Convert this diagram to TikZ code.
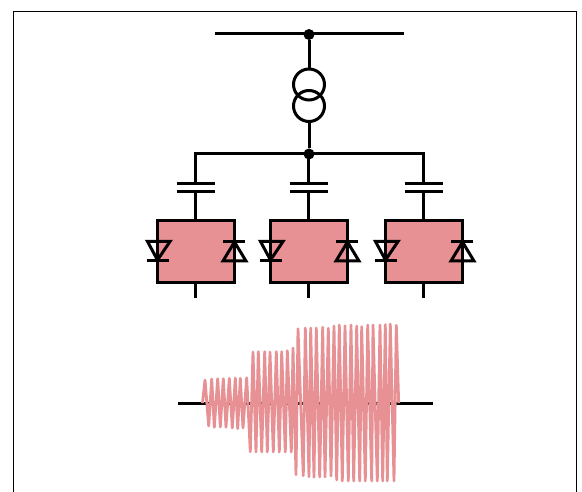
\documentclass[tikz,border=0pt]{standalone}
\usetikzlibrary{calc}
\definecolor{modred}{HTML}{E79195}
\tikzset{
  wire/.style={line width=3pt},
  dot/.style={circle,fill=black,inner sep=0pt,minimum size=11pt},
  winding/.style={circle,draw,line width=3pt,inner sep=0pt,outer sep=0pt,minimum size=31pt},
  module/.style={draw,fill=modred,line width=3pt,inner sep=0pt,outer sep=0pt,minimum width=77pt,minimum height=62pt},
}
\newcommand{\legdiodes}[1]{%
  \draw[wire] ($(#1.west)+(-9.5,-10.5)$) -- ($(#1.west)+(13,-10.5)$) -- ($(#1.west)+(0.5,8)$) -- cycle;
  \draw[wire] ($(#1.west)+(-10.5,9)$) -- ($(#1.west)+(12,9)$);
  \draw[wire] ($(#1.east)+(-11,9)$) -- ($(#1.east)+(12,9)$) -- ($(#1.east)+(0.5,-10)$) -- cycle;
  \draw[wire] ($(#1.east)+(-11,-10)$) -- ($(#1.east)+(11,-10)$);
}
\begin{document}
\begin{tikzpicture}[x=1pt,y=-1pt]
\clip (0,0) rectangle (582,492);
\draw[line width=1pt] (13,11.5) rectangle (576,530);

% grid side
\coordinate (gl) at (215,33.5);
\coordinate (gr) at (404,33.5);
\node[dot] (gdot) at (309,34.5) {};
\node[winding] (tra) at (309,84.5) {};
\node[winding] (trb) at (309,106) {};
\node[dot] (bdot) at (309,154) {};
\draw[wire] (gl) -- (gr);
\draw[wire] (gdot) -- (tra.north);
\draw[wire] (trb.south) -- (bdot);

% legs
\begin{scope}[xshift=0pt]
\coordinate (ca) at (195.5,154);
\coordinate (cau) at (195.5,183.5);
\coordinate (cad) at (195.5,191.5);
\coordinate (ea) at (195.5,298);
\node[module] (ma) at (195.5,252) {};
\draw[wire] (ca) -- (cau);
\draw[wire] (cad) -- (ma.north);
\draw[wire] (ma.south) -- (ea);
\draw[wire] ($(cau)+(-19,0)$) -- ($(cau)+(19,0)$);
\draw[wire] ($(cad)+(-19,0)$) -- ($(cad)+(19,0)$);
\legdiodes{ma}
\end{scope}

\begin{scope}[xshift=113pt]
\coordinate (cb) at (195.5,154);
\coordinate (cbu) at (195.5,183.5);
\coordinate (cbd) at (195.5,191.5);
\coordinate (eb) at (195.5,298);
\node[module] (mb) at (195.5,252) {};
\draw[wire] (cb) -- (cbu);
\draw[wire] (cbd) -- (mb.north);
\draw[wire] (mb.south) -- (eb);
\draw[wire] ($(cbu)+(-19,0)$) -- ($(cbu)+(19,0)$);
\draw[wire] ($(cbd)+(-19,0)$) -- ($(cbd)+(19,0)$);
\legdiodes{mb}
\end{scope}

\begin{scope}[xshift=228pt]
\coordinate (cc) at (195.5,154);
\coordinate (ccu) at (195.5,183.5);
\coordinate (ccd) at (195.5,191.5);
\coordinate (ec) at (195.5,298);
\node[module] (mc) at (195.5,252) {};
\draw[wire] (cc) -- (ccu);
\draw[wire] (ccd) -- (mc.north);
\draw[wire] (mc.south) -- (ec);
\draw[wire] ($(ccu)+(-19,0)$) -- ($(ccu)+(19,0)$);
\draw[wire] ($(ccd)+(-19,0)$) -- ($(ccd)+(19,0)$);
\legdiodes{mc}
\end{scope}

\draw[wire,line cap=rect] (ca) -- (cc);

% waveform
\coordinate (al) at (178,403.5);
\coordinate (ar) at (433,403.5);
\draw[wire] (al) -- (ar);
\draw[modred,line width=2.8pt,line join=round] plot coordinates {
(202.5,403) (205,380) (208.7,426) (211.7,379) (214.3,427.3) (217.7,378.7) (220.3,427)
(223.3,378.7) (226,427.3) (229.3,378.3) (232.3,428) (235.3,378) (237.7,428.7) (240.3,378.3)
(243,428) (246.7,377.7) (250.3,451.7) (253,352) (256,452) (258.3,351.7) (261.7,452)
(264.7,351.7) (267.3,452) (270,352) (273.3,452) (276.3,351.7) (279.3,452) (281.7,351.7)
(285.3,452) (287.3,350.7) (291.3,452) (293,348) (296,474.7) (298,328.7) (303.3,475.7)
(305.3,328) (309,476.7) (310.7,328) (314,477.3) (316.3,328) (319.7,477) (322.7,327.3)
(325,477) (328.3,328.3) (331,476) (334,326) (336.7,480) (339.3,325) (342.3,481)
(345,325.7) (348.3,481) (351,325) (353.7,481) (356.7,326) (359.7,481) (361.7,326.7)
(365.3,481) (367.7,325) (371.7,481) (373,325) (377.3,481) (380,325) (382.7,481)
(385.3,324.7) (387.3,481) (390.3,324) (394,481) (396.3,325.3) (398.7,403)};
\end{tikzpicture}
\end{document}
